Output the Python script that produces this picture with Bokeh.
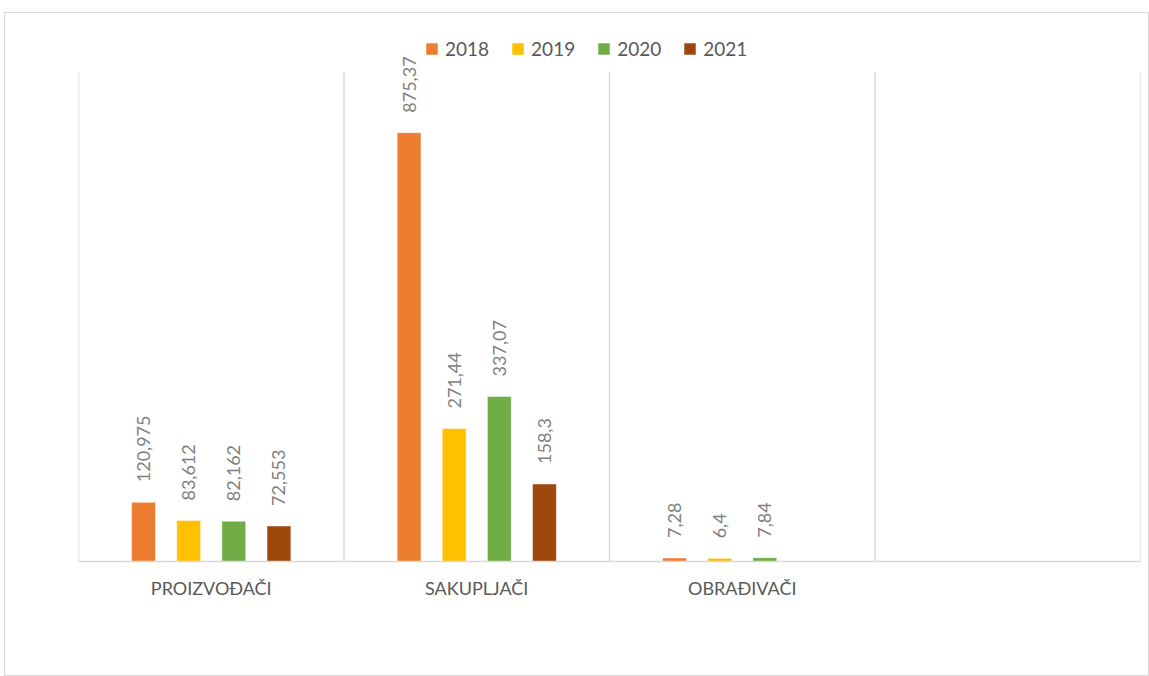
import math
from bokeh.plotting import figure
from bokeh.models import ColumnDataSource, Range1d, FixedTicker, Legend, LegendItem
from bokeh.core.properties import value
from bokeh.embed import file_html
from bokeh.resources import INLINE

categories = ["PROIZVOĐAČI", "SAKUPLJAČI", "OBRAĐIVAČI", ""]
years = ["2018", "2019", "2020", "2021"]
colors = ["#ED7D31", "#FFC000", "#70AD47", "#9E480E"]
v2018 = [120.975, 875.37, 7.28]
v2019 = [83.612, 271.44, 6.4]
v2020 = [82.162, 337.07, 7.84]
v2021 = [72.553, 158.3]
series = [v2018, v2019, v2020, v2021]
labels = [
    ["120,975", "875,37", "7,28"],
    ["83,612", "271,44", "6,4"],
    ["82,162", "337,07", "7,84"],
    ["72,553", "158,3"],
]
axis_max = 1000
boundaries = [0, 1, 2, 3, 4]

FONT = "Lato"
offsets = [-0.255, -0.085, 0.085, 0.255]
bar_w = 0.09

frame_h = 533
p = figure(width=1145, height=664, output_backend="svg", toolbar_location=None,
           x_range=Range1d(0, 4), y_range=Range1d(0, axis_max * frame_h / 488),
           min_border_left=73, min_border_right=10, min_border_top=13, min_border_bottom=116)
p.outline_line_color = None
p.background_fill_color = "white"
p.border_fill_color = "white"

# vertical category separators (grid lines), up to the axis maximum
p.segment(x0=boundaries, x1=boundaries, y0=[0] * 5, y1=[axis_max] * 5,
          line_color="#d9d9d9", line_width=1.5)

renderers = []
for j, (vals, labs) in enumerate(zip(series, labels)):
    xs = [i + 0.5 + offsets[j] for i in range(len(vals))]
    src = ColumnDataSource(dict(x=xs, top=vals, lab=labs))
    r = p.vbar(x="x", top="top", width=bar_w, bottom=0, source=src,
               fill_color=colors[j], line_color="white", line_alpha=0.5, line_width=1)
    renderers.append(r)
    p.text(x="x", y="top", text="lab", source=src, angle=math.pi / 2,
           text_align="left", text_baseline="middle", y_offset=-20,
           text_font=value(FONT), text_font_size="18px", text_color="#808080")

p.yaxis.visible = False
p.grid.visible = False
p.xaxis.ticker = FixedTicker(ticks=[0.5, 1.5, 2.5])
p.xaxis.major_label_overrides = {0.5: categories[0], 1.5: categories[1], 2.5: categories[2]}
p.xaxis.axis_line_color = "#d9d9d9"
p.xaxis.axis_line_width = 1.5
p.xaxis.major_tick_line_color = None
p.xaxis.minor_tick_line_color = None
p.xaxis.major_label_text_font = FONT
p.xaxis.major_label_text_font_size = "18px"
p.xaxis.major_label_text_color = "#595959"
p.xaxis.major_label_standoff = 9

legend = Legend(items=[LegendItem(label=y, renderers=[r]) for y, r in zip(years, renderers)],
                orientation="horizontal", location=(346, 501))
legend.padding = 0
legend.border_line_color = None
legend.background_fill_alpha = 0
legend.glyph_width = 15
legend.glyph_height = 15
legend.label_height = 15
legend.label_standoff = 6
legend.spacing = 21
legend.label_text_font = FONT
legend.label_text_font_size = "19px"
legend.label_text_color = "#595959"
p.add_layout(legend, "center")

p.styles = {"border": "1px solid #d9d9d9", "margin-left": "4px", "margin-top": "12px"}

open("out.html", "w").write(file_html(p, INLINE))
